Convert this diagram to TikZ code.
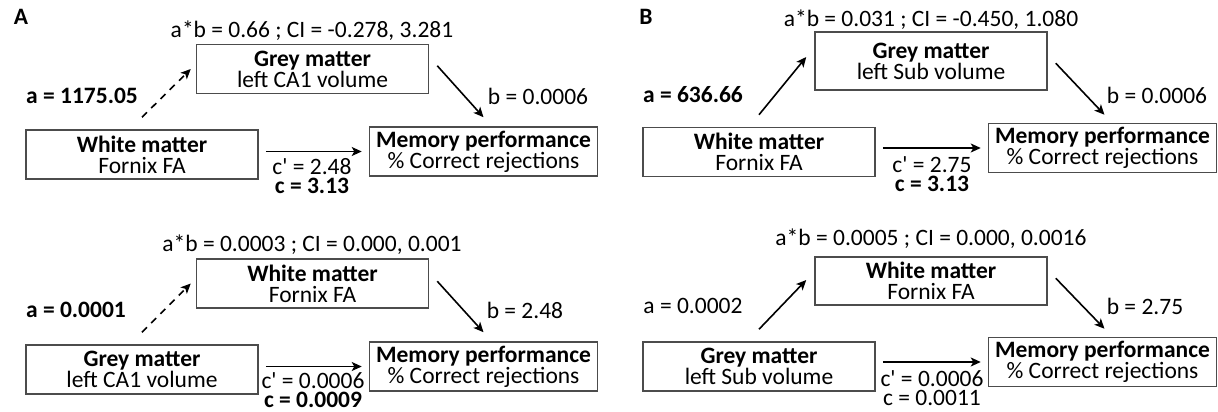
\documentclass[tikz,border=0pt]{standalone}
\usepackage{fontspec}
\setmainfont{Carlito}
\usetikzlibrary{arrows.meta}
\begin{document}
\begin{tikzpicture}[x=1pt,y=-1pt,
  every node/.style={font=\fontsize{23.5}{21}\selectfont, inner sep=0pt},
  varbox/.style={draw=black!70, line width=1.5pt, align=center,
                 minimum width=232pt, minimum height=49pt},
  membox/.style={varbox, minimum width=228pt},
  lbl/.style={anchor=center},
  coef/.style={anchor=base},
  arr/.style={-{Stealth[length=10pt,width=9pt,inset=2.5pt]}, line width=1.6pt, black},
  dsh/.style={arr, dash pattern=on 7pt off 6pt}]
\useasboundingbox (0,0) rectangle (1218,412);

% ---------------- panel A, top model ----------------
\node[lbl] (pA) at (21,17) {\textbf{A}};
\node[lbl] (abA1) at (312,31) {a*b = 0.66 ; CI = -0.278, 3.281};
\node[varbox] (mA1) at (312.5,69) {\textbf{Grey matter}\\left CA1 volume};
\node[varbox] (xA1) at (142,154.5) {\textbf{White matter}\\Fornix FA};
\node[membox] (yA1) at (483.5,151.5) {\textbf{Memory performance}\\\% Correct rejections};
\node[lbl] (aA1) at (82,96) {\textbf{a = 1175.05}};
\node[lbl] (bA1) at (538,96) {b = 0.0006};
\node[coef] (cpA1) at (312,174) {c\textquotesingle{} = 2.48};
\node[coef] (cA1) at (312,193) {\textbf{c = 3.13}};
\draw[dsh] ([yshift=12pt]xA1.north) -- ([xshift=-5pt]mA1.west);
\draw[arr] ([xshift=8pt,yshift=-22pt]mA1.north east) -- ([yshift=9pt]yA1.north);
\draw[arr] ([xshift=7pt]xA1.east |- yA1.west) -- ([xshift=-7pt]yA1.west);

% ---------------- panel A, bottom model ----------------
\node[lbl] (abA2) at (312,245) {a*b = 0.0003 ; CI = 0.000, 0.001};
\node[varbox] (mA2) at (312.5,283.5) {\textbf{White matter}\\Fornix FA};
\node[varbox] (xA2) at (142,369.5) {\textbf{Grey matter}\\left CA1 volume};
\node[membox] (yA2) at (483.5,366.5) {\textbf{Memory performance}\\\% Correct rejections};
\node[lbl] (aA2) at (76,310) {\textbf{a = 0.0001}};
\node[lbl] (bA2) at (525,310) {b = 2.48};
\node[coef] (cpA2) at (313,388) {c\textquotesingle{} = 0.0006};
\node[coef] (cA2) at (313,407) {\textbf{c = 0.0009}};
\draw[dsh] ([yshift=12pt]xA2.north) -- ([xshift=-5pt]mA2.west);
\draw[arr] ([xshift=8pt,yshift=-23pt]mA2.north east) -- ([yshift=9pt]yA2.north);
\draw[arr] ([xshift=7pt]xA2.east |- yA2.west) -- ([xshift=-7pt]yA2.west);

% ---------------- panel B, top model ----------------
\node[lbl] (pB) at (646,17) {\textbf{B}};
\node[lbl] (abB1) at (931,20) {a*b = 0.031 ; CI = -0.450, 1.080};
\node[varbox, minimum height=58pt] (mB1) at (931,61) {\textbf{Grey matter}\\left Sub volume};
\node[varbox] (xB1) at (759,152) {\textbf{White matter}\\Fornix FA};
\node[membox] (yB1) at (1102.5,148) {\textbf{Memory performance}\\\% Correct rejections};
\node[lbl] (aB1) at (693,95) {\textbf{a = 636.66}};
\node[lbl] (bB1) at (1157,95) {b = 0.0006};
\node[coef] (cpB1) at (932,172) {c\textquotesingle{} = 2.75};
\node[coef] (cB1) at (932,191) {\textbf{c = 3.13}};
\draw[arr] ([yshift=12pt]xB1.north) -- ([xshift=-8pt,yshift=4pt]mB1.west);
\draw[arr] ([xshift=8pt,yshift=-32pt]mB1.north east) -- ([xshift=2pt,yshift=8pt]yB1.north);
\draw[arr] ([xshift=7pt]xB1.east |- yB1.west) -- ([xshift=-7pt]yB1.west);

% ---------------- panel B, bottom model ----------------
\node[lbl] (abB2) at (931,239) {a*b = 0.0005 ; CI = 0.000, 0.0016};
\node[varbox, minimum height=48pt] (mB2) at (931,281) {\textbf{White matter}\\Fornix FA};
\node[varbox] (xB2) at (759,366.5) {\textbf{Grey matter}\\left Sub volume};
\node[membox] (yB2) at (1102.5,362) {\textbf{Memory performance}\\\% Correct rejections};
\node[lbl] (aB2) at (693,306) {a = 0.0002};
\node[lbl] (bB2) at (1145,306) {b = 2.75};
\node[coef] (cpB2) at (932,386) {c\textquotesingle{} = 0.0006};
\node[coef] (cB2) at (932,405) {c = 0.0011};
\draw[arr] ([yshift=12pt]xB2.north) -- ([xshift=-8pt,yshift=1pt]mB2.west);
\draw[arr] ([xshift=8pt,yshift=-22pt]mB2.north east) -- ([xshift=2pt,yshift=8pt]yB2.north);
\draw[arr] ([xshift=7pt]xB2.east |- yB2.west) -- ([xshift=-7pt]yB2.west);
\end{tikzpicture}
\end{document}
